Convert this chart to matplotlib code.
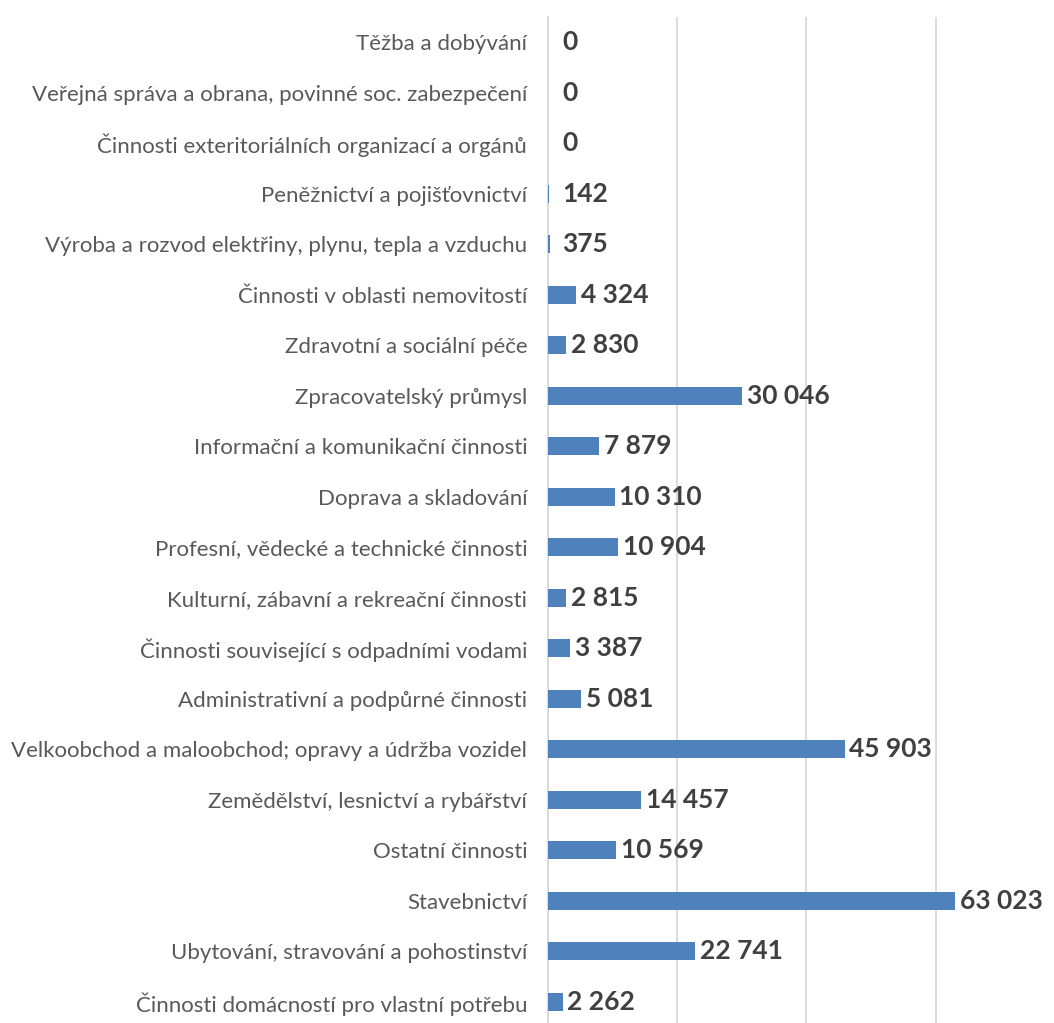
import matplotlib
matplotlib.use("Agg")
import matplotlib.pyplot as plt

# data, top to bottom as in the chart
categories = [
    "Těžba a dobývání",
    "Veřejná správa a obrana, povinné soc. zabezpečení",
    "Činnosti exteritoriálních organizací a orgánů",
    "Peněžnictví a pojišťovnictví",
    "Výroba a rozvod elektřiny, plynu, tepla a vzduchu",
    "Činnosti v oblasti nemovitostí",
    "Zdravotní a sociální péče",
    "Zpracovatelský průmysl",
    "Informační a komunikační činnosti",
    "Doprava a skladování",
    "Profesní, vědecké a technické činnosti",
    "Kulturní, zábavní a rekreační činnosti",
    "Činnosti související s odpadními vodami",
    "Administrativní a podpůrné činnosti",
    "Velkoobchod a maloobchod; opravy a údržba vozidel",
    "Zemědělství, lesnictví a rybářství",
    "Ostatní činnosti",
    "Stavebnictví",
    "Ubytování, stravování a pohostinství",
    "Činnosti domácností pro vlastní potřebu",
]
values = [0, 0, 0, 142, 375, 4324, 2830, 30046, 7879, 10310,
          10904, 2815, 3387, 5081, 45903, 14457, 10569, 63023, 22741, 2262]

plt.rcParams['font.family'] = ['Lato', 'DejaVu Sans']

fig = plt.figure(figsize=(10.54, 10.23), dpi=100)
ax = fig.add_axes([548 / 1054, -4 / 1023, 420 / 1054, 1010 / 1023])

n = len(categories)
ypos = list(range(n))[::-1]

ax.barh(ypos, values, height=0.36, color="#4F81BD", zorder=3)

for y, v in zip(ypos, values):
    label = f"{v:,}".replace(",", " ")
    ax.annotate(label, (max(v, 1500), y), xytext=(3.5, 0), textcoords="offset points",
                va="center", ha="left", fontsize=19, fontweight="bold",
                color="#404040", clip_on=False, annotation_clip=False)

ax.set_xlim(0, 65000)
ax.set_ylim(-0.5, n - 0.5)
ax.set_xticks([0, 20000, 40000, 60000])
ax.set_xticklabels([])
ax.tick_params(axis="x", length=0)
ax.grid(axis="x", color="#D9D9D9", linewidth=1.3, zorder=0)

ax.set_yticks(ypos)
ax.set_yticklabels(categories, fontsize=16, color="#595959")
ax.tick_params(axis="y", length=0, pad=15)

for s in ["top", "right", "bottom"]:
    ax.spines[s].set_visible(False)
ax.spines["left"].set_color("#D9D9D9")
ax.spines["left"].set_linewidth(1.3)

fig.savefig("out.png", dpi=100)
